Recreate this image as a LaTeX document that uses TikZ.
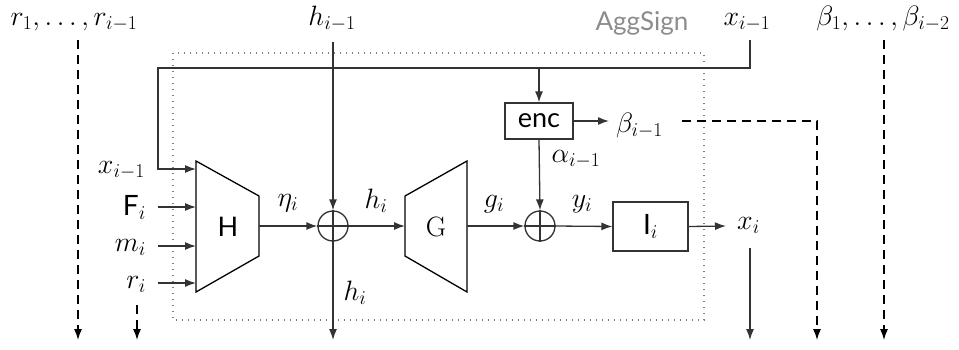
\documentclass[tikz,border=0pt]{standalone}
\usepackage{fix-cm}
\usepackage{fontspec}
\setsansfont{Lato}
\usetikzlibrary{arrows.meta}
\begin{document}
\begin{tikzpicture}[x=1pt,y=-1pt,
  font=\fontsize{28}{33}\selectfont,
  line/.style={line width=1.3pt, draw=black!80},
  arr/.style={line, -{Latex[length=11pt,width=8pt]}},
  darr/.style={arr, draw=black, dash pattern=on 9pt off 6pt},
  lbl/.style={inner sep=0pt, anchor=base},
  boxn/.style={draw=black!80, line width=1.3pt, inner sep=0pt},
  sumn/.style={draw=black!80, line width=1.3pt, circle, minimum size=30pt, inner sep=0pt}]
\useasboundingbox (0,0) rectangle (959,349);

% AggSign frame
\draw[gray, line width=1.2pt, dash pattern=on 1.2pt off 4.8pt] (173,53) rectangle (704,320);
\node[lbl, text=black!45, font=\sffamily\fontsize{26}{30}\selectfont] (agg) at (642,30) {AggSign};

% top labels
\node[lbl] (rtop) at (74,25) {$r_1,\ldots,r_{i-1}$};
\node[lbl] (hprev) at (332,25) {$h_{i-1}$};
\node[lbl] (xprev) at (747,25) {$x_{i-1}$};
\node[lbl] (btop) at (883,25) {$\beta_1,\ldots,\beta_{i-2}$};

% H trapezoid
\draw[line, draw=black] (196,161) -- (259,196) -- (259,256) -- (196,292) -- cycle;
\node[inner sep=0pt, font=\sffamily\fontsize{27}{32}\selectfont] (H) at (228,227) {H};
\coordinate (hin1) at (196,169);
\coordinate (hin2) at (196,207);
\coordinate (hin3) at (196,246);
\coordinate (hin4) at (196,283);
\coordinate (hout) at (259,226);

% G trapezoid
\draw[line, draw=black] (405,196) -- (467,161) -- (467,292) -- (405,256) -- cycle;
\node[inner sep=0pt] (G) at (436,227) {G};
\coordinate (gin) at (405,226);
\coordinate (gout) at (467,226);

% sums
\node[sumn] (o1) at (333,226) {};
\node[sumn] (o2) at (540,226) {};
\draw[line] (o1.west) -- (o1.east);
\draw[line] (o2.west) -- (o2.east) (o2.north) -- (o2.south);

% enc and I boxes
\node[boxn, minimum width=68pt, minimum height=36pt, font=\sffamily\fontsize{27}{32}\selectfont] (enc) at (539,121) {enc};
\node[boxn, minimum width=75pt, minimum height=49pt] (I) at (650.5,226.5) {{\sffamily I}$_i$};

% input labels of H
\node[lbl, anchor=base east] (xin) at (145,173) {$x_{i-1}$};
\node[lbl, anchor=base east] (Fin) at (146,215) {{\sffamily F}$_i$};
\node[lbl, anchor=base east] (min) at (146,251) {$m_i$};
\node[lbl, anchor=base east] (rin) at (146,288) {$r_i$};

% inner labels
\node[lbl] (eta) at (288,206) {$\eta_i$};
\node[lbl] (hmid) at (376,208) {$h_i$};
\node[lbl] (gi) at (494,207) {$g_i$};
\node[lbl] (yi) at (582,207) {$y_i$};
\node[lbl] (alpha) at (576,162) {$\alpha_{i-1}$};
\node[lbl] (hlow) at (355,300) {$h_i$};
\node[lbl, anchor=base west] (bprev) at (616,132) {$\beta_{i-1}$};
\node[lbl, anchor=base west] (xi) at (737,229) {$x_i$};

% free ends
\coordinate (tl) at (158,68);
\coordinate (rdn) at (78,340);
\coordinate (ridn) at (137,340);
\coordinate (hdn) at (333,340);
\coordinate (xdn) at (750,340);
\coordinate (bdn) at (817,340);
\coordinate (bbdn) at (884,340);

% x_{i-1} feedback line
\draw[arr] (750,40) |- (tl) |- (hin1);
\draw[arr] (enc.north |- tl) -- (enc.north);

% inputs
\draw[arr] (hin2 -| tl) -- (hin2);
\draw[arr] (hin3 -| tl) -- (hin3);
\draw[arr] (hin4 -| tl) -- (hin4);

% main chain
\draw[arr] (hout) -- (o1.west);
\draw[arr] (333,42) -- (o1.north);
\draw[arr] (o1.north) -- (hdn);
\draw[arr] (o1.east) -- (gin);
\draw[arr] (gout) -- (o2.west);
\draw[arr] (enc.south) -- (o2.north);
\draw[arr] (o2.east) -- (I.west);
\draw[arr] (I.east) -- (726,226);
\draw[arr] (750,248) -- (xdn);
\draw[arr] (enc.east) -- (609,121);

% dashed outputs
\draw[darr] (682,121) -| (bdn);
\draw[darr] (rdn |- 0,40) -- (rdn);
\draw[darr] (ridn |- 0,305) -- (ridn);
\draw[darr] (bbdn |- 0,40) -- (bbdn);
\end{tikzpicture}
\end{document}
